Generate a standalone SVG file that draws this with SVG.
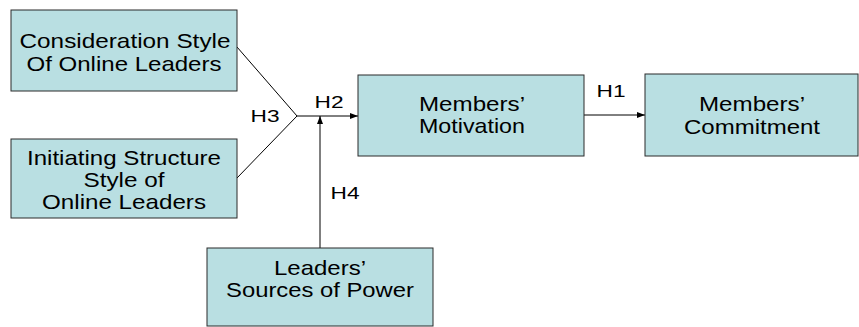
<svg xmlns="http://www.w3.org/2000/svg" width="859" height="327" viewBox="0 0 859 327">
<style>
.box{fill:#B9DFE2;stroke:#2b2b2b;stroke-width:1}
.t{font-family:"Liberation Sans",Arial,sans-serif;font-size:21px;fill:#000;text-anchor:middle}
.h{font-family:"Liberation Sans",Arial,sans-serif;font-size:17px;fill:#000;text-anchor:middle}
.ln{stroke:#000;stroke-width:1;fill:none}
</style>
<defs>
<marker id="arr" viewBox="0 0 8 8" refX="8" refY="4" markerWidth="8" markerHeight="8" markerUnits="userSpaceOnUse" orient="auto">
<path d="M0,1 L8,4 L0,7 Z" fill="#000"/>
</marker>
</defs>
<rect width="859" height="327" fill="#fff"/>
<g id="connectors">
<line class="ln" x1="237" y1="47" x2="297" y2="116"/>
<line class="ln" x1="237" y1="178" x2="297" y2="116"/>
<line class="ln" x1="297" y1="116" x2="358" y2="116" marker-end="url(#arr)"/>
<line class="ln" x1="320" y1="248" x2="320" y2="116" marker-end="url(#arr)"/>
<line class="ln" x1="584" y1="115" x2="645" y2="115" marker-end="url(#arr)"/>
<text class="h" x="265" y="122" textLength="29" lengthAdjust="spacingAndGlyphs">H3</text>
<text class="h" x="329" y="108" textLength="29" lengthAdjust="spacingAndGlyphs">H2</text>
<text class="h" x="345" y="199" textLength="29" lengthAdjust="spacingAndGlyphs">H4</text>
<text class="h" x="611" y="97" textLength="29" lengthAdjust="spacingAndGlyphs">H1</text>
</g>
<g id="consideration">
<rect class="box" x="11" y="10" width="226" height="81"/>
<text class="t" x="125" y="48" textLength="211" lengthAdjust="spacingAndGlyphs">Consideration Style</text>
<text class="t" x="124" y="71" textLength="195" lengthAdjust="spacingAndGlyphs">Of Online Leaders</text>
</g>
<g id="initiating">
<rect class="box" x="11" y="139" width="226" height="79"/>
<text class="t" x="124" y="165" textLength="194" lengthAdjust="spacingAndGlyphs">Initiating Structure</text>
<text class="t" x="124" y="187" textLength="81" lengthAdjust="spacingAndGlyphs">Style of</text>
<text class="t" x="124" y="209" textLength="164" lengthAdjust="spacingAndGlyphs">Online Leaders</text>
</g>
<g id="motivation">
<rect class="box" x="358" y="75" width="226" height="81"/>
<text class="t" x="472" y="111" textLength="106" lengthAdjust="spacingAndGlyphs">Members’</text>
<text class="t" x="472" y="133" textLength="106" lengthAdjust="spacingAndGlyphs">Motivation</text>
</g>
<g id="commitment">
<rect class="box" x="645" y="74" width="213" height="82"/>
<text class="t" x="752" y="111" textLength="106" lengthAdjust="spacingAndGlyphs">Members’</text>
<text class="t" x="752" y="134" textLength="136" lengthAdjust="spacingAndGlyphs">Commitment</text>
</g>
<g id="power">
<rect class="box" x="207" y="248" width="226" height="78"/>
<text class="t" x="320" y="275" textLength="92" lengthAdjust="spacingAndGlyphs">Leaders’</text>
<text class="t" x="320" y="297" textLength="188" lengthAdjust="spacingAndGlyphs">Sources of Power</text>
</g>
</svg>
